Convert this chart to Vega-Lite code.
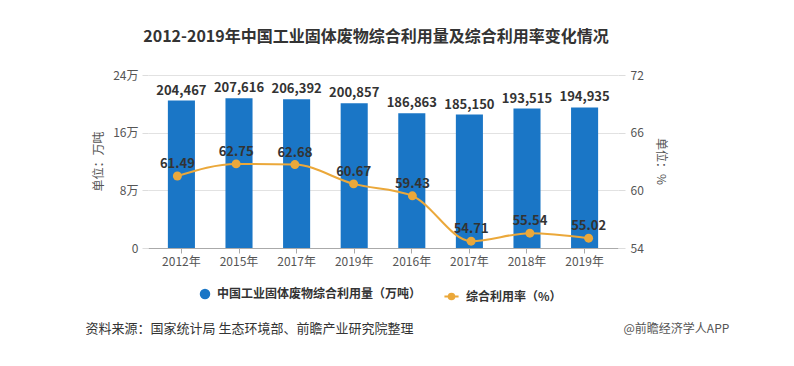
{
  "$schema": "https://vega.github.io/schema/vega-lite/v6.json",
  "width": 470,
  "height": 173,
  "autosize": {"type": "none"},
  "padding": {"left": 148, "top": 75, "right": 176, "bottom": 118},
  "background": "white",
  "config": {"font": "Noto Sans CJK SC", "view": {"stroke": null}},
  "title": {
    "text": "2012-2019年中国工业固体废物综合利用量及综合利用率变化情况",
    "fontSize": 16,
    "fontWeight": "bold",
    "color": "#333333",
    "anchor": "middle",
    "frame": "group",
    "offset": 24,
    "dx": -7
  },
  "data": {
    "values": [
      {"key": "2012年", "amount": 204467, "rate": 61.49},
      {"key": "2015年", "amount": 207616, "rate": 62.75},
      {"key": "2017年", "amount": 206392, "rate": 62.68},
      {"key": "2019年", "amount": 200857, "rate": 60.67},
      {"key": "2016年", "amount": 186863, "rate": 59.43},
      {"key": "2017年 ", "amount": 185150, "rate": 54.71},
      {"key": "2018年", "amount": 193515, "rate": 55.54},
      {"key": "2019年 ", "amount": 194935, "rate": 55.02}
    ]
  },
  "layer": [
    {
      "encoding": {
        "x": {
          "field": "key",
          "type": "nominal",
          "sort": null,
          "scale": {"paddingInner": 0.53, "paddingOuter": 0.345},
          "axis": {
            "labelExpr": "trim(datum.value)",
            "labelAngle": 0,
            "labelFontSize": 12,
            "labelColor": "#555555",
            "labelPadding": 3,
            "tickSize": 5,
            "tickColor": "#aaaaaa",
            "domainColor": "#aaaaaa",
            "title": "资料来源：国家统计局 生态环境部、前瞻产业研究院整理",
            "titleFontSize": 13,
            "titleFontWeight": "normal",
            "titleColor": "#333333",
            "titleAlign": "left",
            "titleAnchor": null,
            "titleBaseline": "middle",
            "titleX": -63,
            "titleY": 80
          }
        },
        "y": {
          "field": "amount",
          "type": "quantitative",
          "scale": {"domain": [0, 240000], "nice": false},
          "axis": {
            "values": [0, 80000, 160000, 240000],
            "labelExpr": "datum.value == 0 ? '0' : (datum.value / 10000) + '万'",
            "labelFontSize": 12,
            "labelColor": "#555555",
            "labelPadding": 4,
            "tickSize": 6,
            "tickColor": "#dddddd",
            "domain": false,
            "grid": true,
            "gridColor": "#e2e2e2",
            "title": "单位：万吨",
            "titleFontSize": 12,
            "titleFontWeight": "normal",
            "titleColor": "#555555",
            "titleX": -50,
            "titleY": 86,
            "titleAlign": "center",
            "titleBaseline": "middle"
          }
        }
      },
      "layer": [
        {
          "mark": {"type": "bar"},
          "encoding": {
            "fill": {
              "datum": "中国工业固体废物综合利用量（万吨）",
              "scale": {"range": ["#1a76c6"]},
              "legend": {
                "orient": "none",
                "legendX": 51,
                "legendY": 213,
                "title": null,
                "symbolType": "circle",
                "symbolSize": 110,
                "labelFontSize": 12,
                "labelFontWeight": "bold",
                "labelColor": "#333333",
                "labelOffset": 6,
                "labelLimit": 400
              }
            }
          }
        },
        {
          "mark": {"type": "text", "baseline": "alphabetic", "dy": -6, "fontSize": 13, "fontWeight": "bold", "color": "#333333"},
          "encoding": {"text": {"field": "amount", "type": "quantitative", "format": ","}}
        }
      ]
    },
    {
      "encoding": {
        "x": {
          "field": "key",
          "type": "nominal",
          "sort": null,
          "scale": {"paddingInner": 0.53, "paddingOuter": 0.345},
          "axis": {
            "orient": "top",
            "labels": false,
            "ticks": false,
            "domain": false,
            "grid": false,
            "title": "@前瞻经济学人APP",
            "titleFontSize": 12,
            "titleFontWeight": "normal",
            "titleColor": "#555555",
            "titleAlign": "left",
            "titleAnchor": null,
            "titleBaseline": "middle",
            "titleX": 475,
            "titleY": 253
          }
        },
        "y": {
          "field": "rate",
          "type": "quantitative",
          "scale": {"domain": [54, 72], "nice": false, "zero": false},
          "axis": {
            "orient": "right",
            "values": [54, 60, 66, 72],
            "labelFontSize": 12,
            "labelColor": "#555555",
            "labelPadding": 5,
            "tickSize": 7,
            "tickColor": "#dddddd",
            "domain": false,
            "grid": false,
            "title": "单位：%",
            "titleAngle": 90,
            "titleFontSize": 12,
            "titleFontWeight": "normal",
            "titleColor": "#555555",
            "titleX": 42,
            "titleY": 86,
            "titleAlign": "center",
            "titleBaseline": "middle"
          }
        }
      },
      "layer": [
        {
          "mark": {"type": "line", "interpolate": "monotone", "strokeWidth": 2},
          "encoding": {
            "stroke": {
              "datum": "综合利用率（%）",
              "scale": {"range": ["#eba83a"]},
              "legend": {
                "orient": "none",
                "legendX": 295,
                "legendY": 213,
                "title": null,
                "symbolType": "M-1,0L1,0M-0.4,0A0.4,0.4,0,1,1,0.4,0A0.4,0.4,0,1,1,-0.4,0Z",
                "symbolSize": 200,
                "symbolStrokeWidth": 2,
                "labelFontSize": 12,
                "labelFontWeight": "bold",
                "labelColor": "#333333",
                "labelOffset": 6,
                "labelLimit": 400,
                "encode": {"symbols": {"update": {"fill": {"value": "#eba83a"}, "stroke": {"value": "#eba83a"}}}}
              }
            }
          }
        },
        {
          "mark": {"type": "point", "filled": true, "size": 80, "color": "#eba83a", "opacity": 1}
        },
        {
          "mark": {"type": "text", "baseline": "alphabetic", "dy": -8, "fontSize": 13, "fontWeight": "bold", "color": "#333333"},
          "encoding": {"text": {"field": "rate", "type": "quantitative", "format": ".2f"}}
        }
      ]
    }
  ],
  "resolve": {"scale": {"x": "independent", "y": "independent"}}
}
